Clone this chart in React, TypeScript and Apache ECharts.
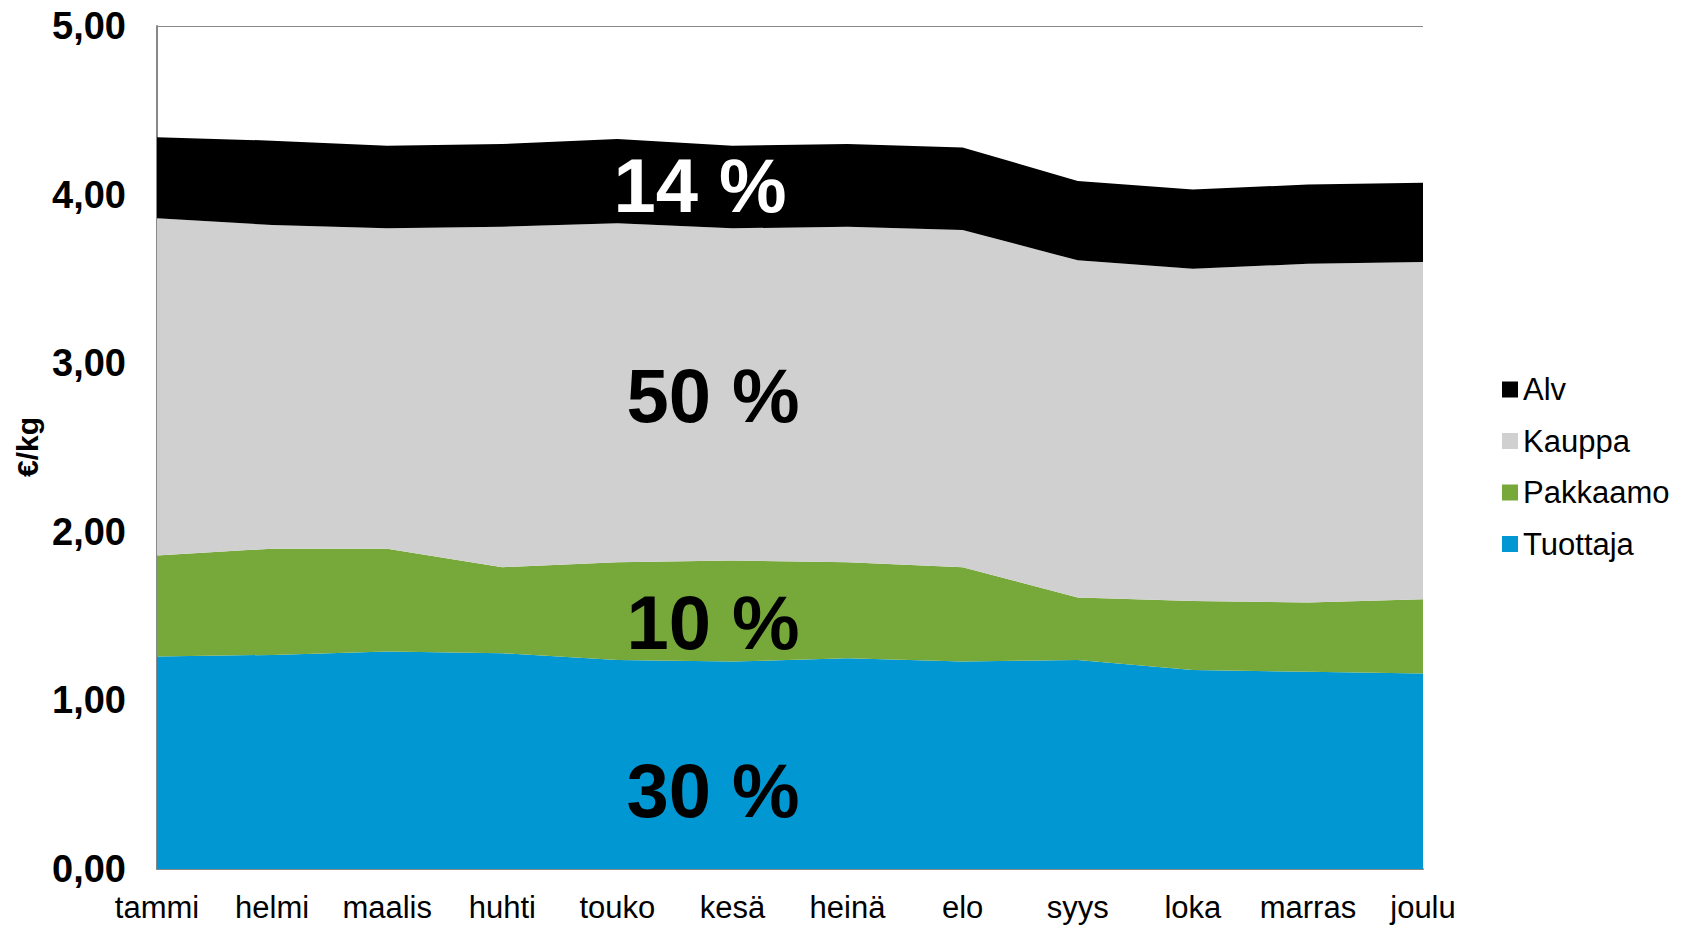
import React, { useEffect, useRef } from "react";
import * as echarts from "echarts";

const months = ["tammi", "helmi", "maalis", "huhti", "touko", "kesä", "heinä", "elo", "syys", "loka", "marras", "joulu"];
const tuottaja = [1.26, 1.27, 1.29, 1.28, 1.24, 1.23, 1.25, 1.23, 1.24, 1.18, 1.17, 1.16];
const pakkaamo = [0.60, 0.63, 0.61, 0.51, 0.58, 0.60, 0.57, 0.56, 0.37, 0.41, 0.41, 0.44];
const kauppa = [2.00, 1.92, 1.90, 2.02, 2.01, 1.97, 1.99, 2.00, 2.00, 1.97, 2.01, 2.00];
const alv = [0.48, 0.50, 0.49, 0.49, 0.50, 0.49, 0.49, 0.49, 0.47, 0.47, 0.47, 0.47];
const shareLabels = ["14 %", "50 %", "10 %", "30 %"];
const legendOrder = ["Alv", "Kauppa", "Pakkaamo", "Tuottaja"];

const FONT = "'Liberation Sans', Arial, Helvetica, sans-serif";

export default function App() {
  const ref = useRef<HTMLDivElement>(null);
  useEffect(() => {
    if (!ref.current) return;
    const chart = echarts.init(ref.current, null, { renderer: "svg" });
    const mk = (name: string, data: number[], color: string) => ({
      name,
      type: "line",
      stack: "total",
      data,
      symbol: "none",
      lineStyle: { width: 0 },
      areaStyle: { color, opacity: 1 },
      itemStyle: { color },
      emphasis: { disabled: true },
    });
    const bigText = (text: string, x: number, y: number, fill: string) => ({
      type: "text",
      x,
      y,
      z: 100,
      style: {
        text,
        fill,
        font: `bold 76px ${FONT}`,
        textAlign: "center",
        textVerticalAlign: "middle",
      },
    });
    chart.setOption({
      animation: false,
      textStyle: { fontFamily: FONT },
      grid: { left: 157, top: 26, width: 1266, height: 843, containLabel: false },
      legend: {
        data: legendOrder,
        orient: "vertical",
        left: 1497,
        top: 369,
        icon: "rect",
        itemWidth: 16,
        itemHeight: 16,
        itemGap: 20.5,
        textStyle: { fontSize: 31, color: "#000", fontFamily: FONT, lineHeight: 31, padding: [0, 0, 0, 0] },
        selectedMode: false,
      },
      xAxis: {
        type: "category",
        boundaryGap: false,
        data: months,
        axisLine: { lineStyle: { color: "#888", width: 2 } },
        axisTick: { show: false },
        axisLabel: { fontSize: 31, color: "#000", margin: 23, fontFamily: FONT, interval: 0 },
      },
      yAxis: {
        type: "value",
        min: 0,
        max: 5,
        interval: 1,
        axisLine: { show: true, lineStyle: { color: "#888", width: 2 } },
        axisTick: { show: false },
        splitLine: { show: true, lineStyle: { color: "#888", width: 1 } },
        axisLabel: {
          fontSize: 38,
          fontWeight: "bold",
          color: "#000",
          margin: 31,
          fontFamily: FONT,
          formatter: (v: number) => v.toFixed(2).replace(".", ","),
        },
      },
      series: [
        mk("Tuottaja", tuottaja, "#0097D3"),
        mk("Pakkaamo", pakkaamo, "#77A83A"),
        mk("Kauppa", kauppa, "#D0D0D0"),
        mk("Alv", alv, "#000000"),
      ],
      graphic: [
        {
          type: "text",
          x: 27,
          y: 447,
          rotation: Math.PI / 2,
          style: {
            text: "€/kg",
            fill: "#000",
            font: `bold 30px ${FONT}`,
            textAlign: "center",
            textVerticalAlign: "middle",
          },
        },
        bigText(shareLabels[0], 700, 185, "#fff"),
        bigText(shareLabels[1], 713, 395, "#000"),
        bigText(shareLabels[2], 713, 622, "#000"),
        bigText(shareLabels[3], 713, 790, "#000"),
      ],
    });
    return () => chart.dispose();
  }, []);
  return (
    <div
      ref={ref}
      style={{ position: "fixed", left: 0, top: 0, width: 1690, height: 926, background: "#fff" }}
    />
  );
}
